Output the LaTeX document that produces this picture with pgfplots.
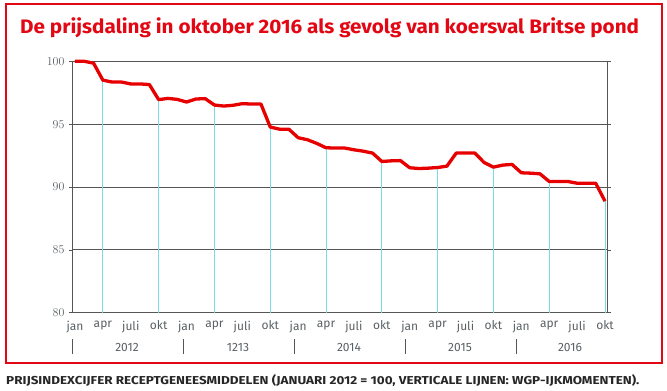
\documentclass[border=0pt]{standalone}
\usepackage{fontspec}
\setmainfont{Fira Sans}
\newfontfamily\titlefont{Fira Sans}[FakeStretch=1.06]
\newfontfamily\capfont{Fira Sans}[FakeStretch=1.17]
\newfontfamily\labfont{Fira Sans}
\usepackage{pgfplots}
\pgfplotsset{compat=1.18}
\definecolor{titlered}{HTML}{E30613}
\definecolor{linered}{HTML}{E60000}
\definecolor{cyanl}{HTML}{7FD8E2}
\definecolor{lab}{HTML}{5A6064}
\definecolor{gridc}{HTML}{555555}
\pgfplotstableread{
m v
0 100
1 100
2 99.85
3 98.5
4 98.35
5 98.35
6 98.2
7 98.2
8 98.15
9 96.95
10 97.05
11 96.97
12 96.76
13 97.0
14 97.03
15 96.52
16 96.44
17 96.5
18 96.63
19 96.6
20 96.6
21 94.77
22 94.6
23 94.6
24 93.92
25 93.76
26 93.47
27 93.12
28 93.1
29 93.1
30 92.96
31 92.85
32 92.7
33 92.03
34 92.08
35 92.1
36 91.53
37 91.47
38 91.5
39 91.55
40 91.66
41 92.7
42 92.7
43 92.7
44 91.95
45 91.58
46 91.74
47 91.8
48 91.13
49 91.1
50 91.05
51 90.44
52 90.44
53 90.44
54 90.3
55 90.3
56 90.3
57 88.87
}\prices
\begin{document}
\begin{tikzpicture}
\path[use as bounding box] (0pt,0pt) rectangle (667pt,391pt);
\draw[titlered, line width=2pt] (6pt,28.3pt) rectangle (662pt,387pt);
\node[anchor=west, text=titlered, inner sep=0pt, font=\titlefont\bfseries\fontsize{19.5}{22}\selectfont] at (20pt,363pt) {De prijsdaling in oktober 2016 als gevolg van koersval Britse pond};
\begin{axis}[
  at={(72pt,78.3pt)}, anchor=south west,
  width=535.7pt, height=251.4pt, scale only axis,
  clip=false,
  xmin=-0.32, xmax=57.29, ymin=80, ymax=100,
  ytick={80,85,90,95,100},
  ymajorgrids,
  grid style={gridc, line width=0.8pt},
  xtick={0,3,...,57},
  xticklabels={jan,apr,juli,okt,jan,apr,juli,okt,jan,apr,juli,okt,jan,apr,juli,okt,jan,apr,juli,okt},
  x tick style={draw=none},
  y tick style={draw=gridc, line width=0.6pt},
  tick align=outside,
  major tick length=3pt,
  axis line style={draw=gridc, line width=0.8pt},
  ticklabel style={font=\labfont\fontsize{12}{14}\selectfont, text=lab},
  xticklabel style={yshift=-1.5pt},
  yticklabel style={xshift=-1pt},
  unbounded coords=jump,
]
\addplot[cyanl, line width=0.9pt] coordinates {
(3,80) (3,98.5) (nan,nan)
(9,80) (9,96.95) (nan,nan)
(15,80) (15,96.52) (nan,nan)
(21,80) (21,94.77) (nan,nan)
(27,80) (27,93.12) (nan,nan)
(33,80) (33,92.03) (nan,nan)
(39,80) (39,91.55) (nan,nan)
(45,80) (45,91.58) (nan,nan)
(51,80) (51,90.44) (nan,nan)
(57,80) (57,88.87)
};
\addplot[linered, line width=3.3pt, line join=round] table[x=m, y=v] {\prices};
\end{axis}
\foreach \xx in {72,183,294,405,516} {
  \draw[gridc, line width=0.7pt] (\xx pt,37pt) -- (\xx pt,52pt);
}
\foreach \xx/\yy in {127/2012,238/1213,349/2014,460/2015,570/2016} {
  \node[text=lab, font=\labfont\fontsize{12}{14}\selectfont] at (\xx pt,44pt) {\yy};
}
\node[anchor=west, inner sep=0pt, text=black!85, font=\capfont\bfseries\fontsize{11.5}{13}\selectfont] at (6pt,10.5pt) {PRIJSINDEXCIJFER RECEPTGENEESMIDDELEN (JANUARI 2012 = 100, VERTICALE LIJNEN: WGP-IJKMOMENTEN).};
\end{tikzpicture}
\end{document}
